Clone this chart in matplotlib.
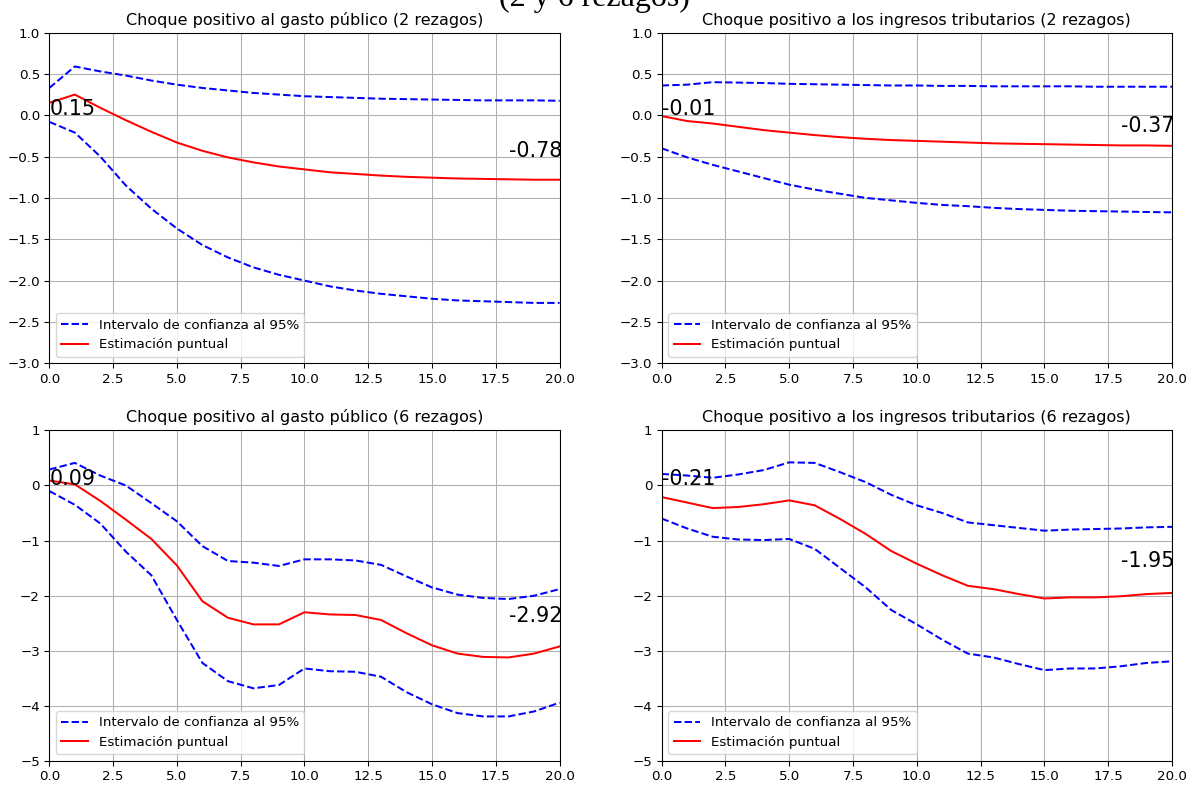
import numpy as np
import matplotlib
matplotlib.use('Agg')
import matplotlib.pyplot as plt

# Horizonte de la funcion impulso-respuesta
periodos = np.arange(21)

# Choque al gasto publico (2 rezagos)
gasto2_est = [0.15, 0.25, 0.09, -0.06, -0.20, -0.33, -0.43, -0.51, -0.57, -0.62, -0.655,
              -0.69, -0.71, -0.73, -0.745, -0.755, -0.765, -0.77, -0.775, -0.78, -0.78]
gasto2_sup = [0.33, 0.59, 0.53, 0.48, 0.42, 0.37, 0.33, 0.30, 0.27, 0.25, 0.23,
              0.22, 0.21, 0.20, 0.195, 0.19, 0.185, 0.18, 0.18, 0.18, 0.175]
gasto2_inf = [-0.08, -0.21, -0.50, -0.85, -1.13, -1.37, -1.57, -1.72, -1.84, -1.93, -2.00,
              -2.07, -2.12, -2.16, -2.19, -2.22, -2.24, -2.25, -2.26, -2.27, -2.27]

# Choque a los ingresos tributarios (2 rezagos)
ingr2_est = [-0.01, -0.07, -0.10, -0.14, -0.18, -0.21, -0.24, -0.265, -0.285, -0.30, -0.31,
             -0.32, -0.33, -0.34, -0.345, -0.35, -0.355, -0.36, -0.365, -0.365, -0.37]
ingr2_sup = [0.36, 0.37, 0.40, 0.395, 0.39, 0.38, 0.375, 0.37, 0.365, 0.36, 0.36,
             0.355, 0.355, 0.35, 0.35, 0.35, 0.35, 0.345, 0.345, 0.345, 0.345]
ingr2_inf = [-0.40, -0.51, -0.60, -0.68, -0.76, -0.84, -0.90, -0.95, -1.00, -1.03, -1.06,
             -1.085, -1.10, -1.12, -1.135, -1.145, -1.155, -1.16, -1.165, -1.17, -1.175]

# Choque al gasto publico (6 rezagos)
gasto6_est = [0.09, 0.02, -0.28, -0.62, -0.97, -1.45, -2.10, -2.40, -2.52, -2.52, -2.30,
              -2.34, -2.35, -2.44, -2.68, -2.90, -3.05, -3.11, -3.12, -3.05, -2.92]
gasto6_sup = [0.29, 0.41, 0.18, 0.00, -0.32, -0.65, -1.10, -1.37, -1.40, -1.46, -1.34,
              -1.34, -1.36, -1.44, -1.65, -1.85, -1.98, -2.04, -2.06, -2.00, -1.88]
gasto6_inf = [-0.10, -0.35, -0.69, -1.20, -1.63, -2.44, -3.22, -3.55, -3.68, -3.62, -3.32,
              -3.37, -3.38, -3.47, -3.75, -3.97, -4.13, -4.19, -4.19, -4.10, -3.94]

# Choque a los ingresos tributarios (6 rezagos)
ingr6_est = [-0.21, -0.31, -0.41, -0.39, -0.34, -0.27, -0.36, -0.61, -0.88, -1.19, -1.42,
             -1.63, -1.82, -1.88, -1.97, -2.05, -2.03, -2.03, -2.01, -1.97, -1.95]
ingr6_sup = [0.21, 0.18, 0.14, 0.20, 0.28, 0.42, 0.41, 0.24, 0.06, -0.17, -0.36,
             -0.50, -0.67, -0.72, -0.77, -0.82, -0.80, -0.79, -0.78, -0.76, -0.75]
ingr6_inf = [-0.60, -0.78, -0.93, -0.98, -0.99, -0.97, -1.15, -1.50, -1.85, -2.26, -2.52,
             -2.80, -3.05, -3.12, -3.24, -3.35, -3.32, -3.32, -3.28, -3.22, -3.19]

titulos = ['Choque positivo al gasto público (2 rezagos)',
           'Choque positivo a los ingresos tributarios (2 rezagos)',
           'Choque positivo al gasto público (6 rezagos)',
           'Choque positivo a los ingresos tributarios (6 rezagos)']
estimaciones = [gasto2_est, ingr2_est, gasto6_est, ingr6_est]
superiores = [gasto2_sup, ingr2_sup, gasto6_sup, ingr6_sup]
inferiores = [gasto2_inf, ingr2_inf, gasto6_inf, ingr6_inf]
etiquetas_ini = ['0.15', '-0.01', '0.09', '-0.21']
etiquetas_fin = ['-0.78', '-0.37', '-2.92', '-1.95']
y_fin = [-0.50, -0.20, -2.48, -1.47]
limites = [(-3, 1), (-3, 1), (-5, 1), (-5, 1)]

fig, axs = plt.subplots(2, 2, figsize=(1188 / 96, 785 / 96), dpi=96)
plt.subplots_adjust(left=0.0415, right=0.9865, top=0.9585, bottom=0.0305,
                    wspace=0.2, hspace=0.203)

for i, ax in enumerate(axs.flat):
    ax.plot(periodos, superiores[i], 'b--', label='Intervalo de confianza al 95%')
    ax.plot(periodos, estimaciones[i], 'r-', label='Estimación puntual')
    ax.plot(periodos, inferiores[i], 'b--')
    ax.set_xlim(0, 20)
    ax.set_ylim(*limites[i])
    ax.grid(True)
    ax.set_title(titulos[i])
    ax.text(0, 0, etiquetas_ini[i], fontsize=15.5)
    ax.text(18, y_fin[i], etiquetas_fin[i], fontsize=15.5)
    ax.legend(loc='lower left')

fig.text(0.5, 0.9925, '(2 y 6 rezagos)', ha='center', va='baseline',
         fontsize=24, family='Liberation Serif')

plt.savefig('out.png', dpi=96)
